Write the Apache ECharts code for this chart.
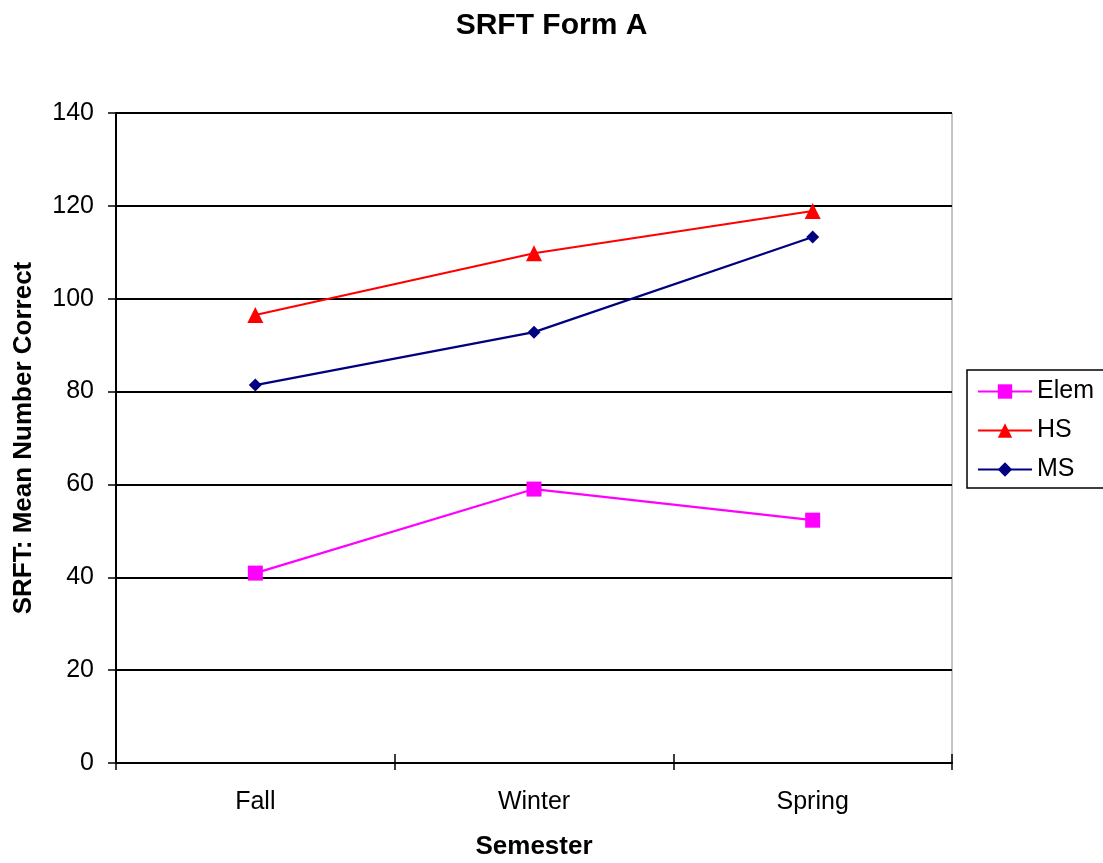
<!DOCTYPE html>
<html>
<head>
<meta charset="utf-8">
<script src="https://cdn.jsdelivr.net/npm/echarts@6/dist/echarts.min.js"></script>
<style>html,body{margin:0;padding:0;background:#fff;}#c{width:1103px;height:863px;}</style>
</head>
<body>
<div id="c"></div>
<script>
const categories = ['Fall', 'Winter', 'Spring'];
const elem = [40.9, 59.0, 52.3];
const hs = [96.5, 109.8, 118.9];
const ms = [81.4, 92.8, 113.3];

const chart = echarts.init(document.getElementById('c'));
const font = 'Liberation Sans, Arial, sans-serif';
chart.setOption({
  animation: false,
  backgroundColor: '#fff',
  title: {
    text: 'SRFT Form A', left: 'center', top: 6,
    textStyle: { fontFamily: font, fontSize: 30, fontWeight: 'bold', color: '#000' }
  },
  grid: { left: 116, right: 151, top: 113, bottom: 100, show: true, borderColor: '#888', borderWidth: 1,
    containLabel: false, outerBoundsMode: 'none' },
  legend: {
    orient: 'vertical', left: 967, top: 370,
    width: 140,
    padding: [9, 40, 6, 10],
    itemGap: 14, itemWidth: 54, itemHeight: 18,
    borderColor: '#000', borderWidth: 1.5,
    textStyle: { fontFamily: font, fontSize: 25, color: '#000' },
    data: ['Elem', 'HS', 'MS']
  },
  xAxis: [{
    type: 'category', data: categories, boundaryGap: true,
    name: 'Semester', nameLocation: 'middle', nameGap: 71,
    nameTextStyle: { fontFamily: font, fontSize: 26, fontWeight: 'bold', color: '#000' },
    axisLine: { lineStyle: { color: '#000', width: 2 } },
    axisTick: { show: true, length: 7, lineStyle: { color: '#000', width: 1.5 } },
    axisLabel: { fontFamily: font, fontSize: 25, color: '#000', margin: 27 },
    splitLine: { show: false }
  }, {
    type: 'category', data: categories, boundaryGap: true, position: 'bottom',
    axisLine: { show: false },
    axisTick: { show: true, inside: true, length: 9, lineStyle: { color: '#000', width: 1.5 } },
    axisLabel: { show: false },
    splitLine: { show: false }
  }],
  yAxis: {
    type: 'value', min: 0, max: 140, interval: 20,
    name: 'SRFT: Mean Number Correct', nameLocation: 'middle', nameGap: 79, nameRotate: 90,
    nameTextStyle: { fontFamily: font, fontSize: 26, fontWeight: 'bold', color: '#000' },
    axisLine: { show: true, lineStyle: { color: '#000', width: 2 } },
    axisTick: { show: true, length: 8, lineStyle: { color: '#000', width: 1.5 } },
    axisLabel: { fontFamily: font, fontSize: 25, color: '#000', margin: 22 },
    splitLine: { show: true, lineStyle: { color: '#000', width: 2 } }
  },
  series: [
    { name: 'Elem', type: 'line', data: elem, symbol: 'rect', symbolSize: 15,
      lineStyle: { color: '#ff00ff', width: 2.2 }, itemStyle: { color: '#ff00ff' } },
    { name: 'HS', type: 'line', data: hs, symbol: 'triangle', symbolSize: 16,
      lineStyle: { color: '#ff0000', width: 2.2 }, itemStyle: { color: '#ff0000' } },
    { name: 'MS', type: 'line', data: ms, symbol: 'diamond', symbolSize: 13,
      lineStyle: { color: '#000080', width: 2.2 }, itemStyle: { color: '#000080' } }
  ]
});
</script>
</body>
</html>
